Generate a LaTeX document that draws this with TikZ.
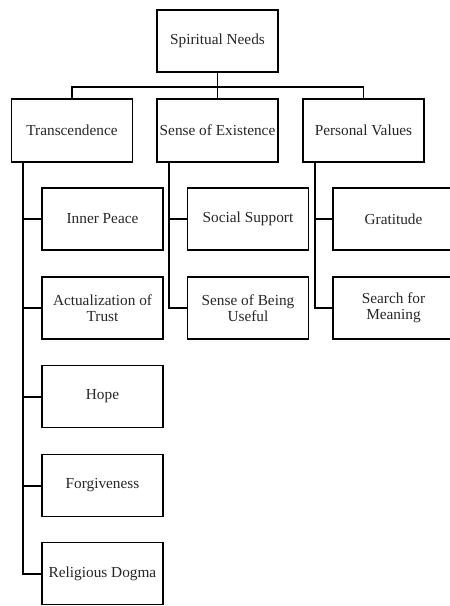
\documentclass[tikz,border=0pt]{standalone}
\usepackage{fontspec}
\setmainfont{Liberation Serif}
\begin{document}
\begin{tikzpicture}[x=1pt,y=-1pt,
  box/.style={draw=black, line width=1.5pt, rectangle, inner sep=0pt,
    minimum width=121pt, minimum height=62pt, align=center,
    font=\fontsize{15.3}{16.5}\selectfont, text=black!85},
  link/.style={draw=black, line width=1.5pt},
  trunk/.style={draw=black, line width=2pt}]
\useasboundingbox (0,0) rectangle (450,606);
\clip (0,0) rectangle (450,606);
\node[box] (root) at (217.5,41) {Spiritual Needs};
\node[box, minimum height=63pt] (tr) at (72,130.5) {Transcendence};
\node[box, minimum height=63pt] (se) at (217.5,130.5) {Sense of Existence};
\node[box, minimum height=63pt] (pv) at (363.5,130.5) {Personal Values};
% level 2
\node[box] (ip) at (102.5,219) {Inner Peace};
\node[box] (at) at (102.5,308) {Actualization of\\Trust};
\node[box] (ho) at (102.5,396.5) {Hope};
\node[box] (fo) at (102.5,485.5) {Forgiveness};
\node[box] (rd) at (102.5,573.5) {Religious Dogma};
\node[box] (ss) at (248,219) {Social Support};
\node[box] (su) at (248,308) {Sense of Being\\Useful};
\node[box] (gr) at (393.5,219) {Gratitude};
\node[box] (sm) at (393.5,308) {Search for\\Meaning};
% top connectors
\draw[link] (root.south) -- ++(0,14) -| (tr.north);
\draw[link] (root.south) -- ++(0,14) -| (pv.north);
\draw[link] (root.south) -- (se.north);
% trunks
\foreach \c in {ip,at,ho,fo,rd}
  \draw[trunk] ([xshift=-49pt]tr.south) |- (\c.west);
\foreach \c in {ss,su}
  \draw[link] ([xshift=-48.5pt]se.south) |- (\c.west);
\foreach \c in {gr,sm}
  \draw[link] ([xshift=-48.5pt]pv.south) |- (\c.west);
\end{tikzpicture}
\end{document}
